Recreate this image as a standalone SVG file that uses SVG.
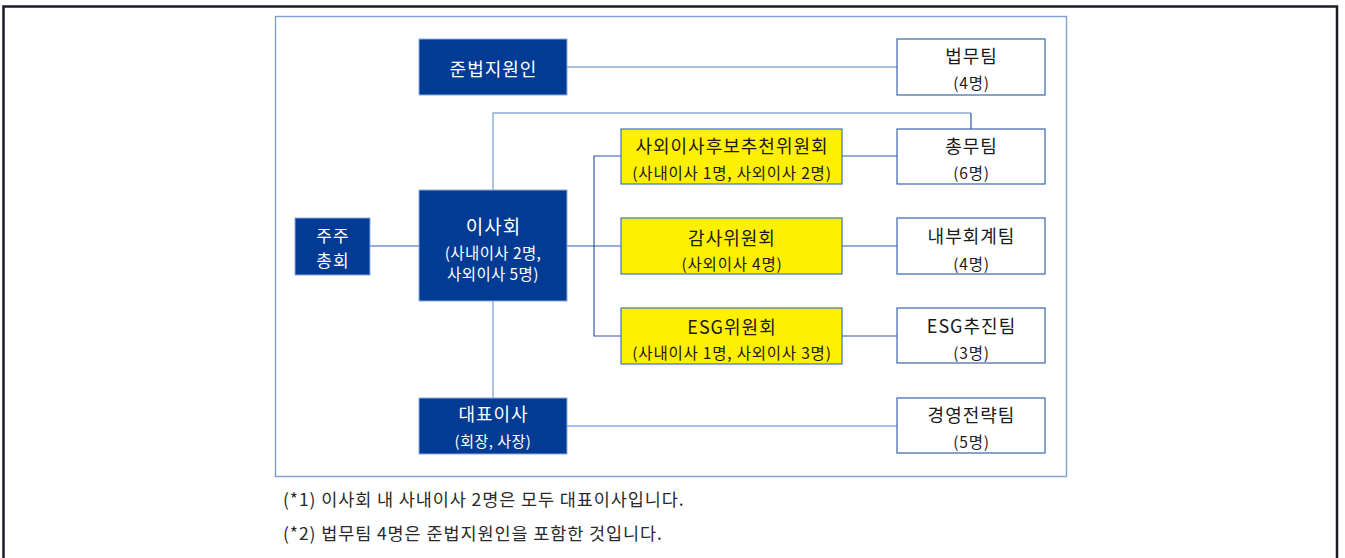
<svg xmlns="http://www.w3.org/2000/svg" width="1345" height="558" viewBox="0 0 1345 558">
<style>
text{font-family:"Noto Sans CJK KR","Noto Sans",sans-serif;text-anchor:middle;dominant-baseline:central}
.navy{fill:#023b94;stroke:#8faadc;stroke-width:1}
.yel{fill:#ffef00;stroke:#4472c4;stroke-width:1.2}
.wht{fill:#ffffff;stroke:#3a64ad;stroke-width:1.2}
.tw{fill:#ffffff}
.tb{fill:#1a1a1a}
.lt{font-size:18px;letter-spacing:1px}
.sm{font-size:15.5px;letter-spacing:0.8px}
.c1{fill:none;stroke:#8eaadb;stroke-width:1.4}
.c2{fill:none;stroke:#2f5aa6;stroke-width:1.2}
.note{font-size:17.5px;letter-spacing:0.9px;fill:#2a2a2a;text-anchor:start}
</style>
<rect width="1345" height="558" fill="#ffffff"/>
<path d="M3.5 558 V6.5 H1337 V558" fill="none" stroke="#1b1d26" stroke-width="2.5"/>
<rect x="275.5" y="16.5" width="791" height="460" fill="none" stroke="#7f9fd4" stroke-width="1.4"/>
<g id="connectors">
<path class="c1" d="M567 67 H897"/>
<path class="c1" d="M493 190 V113 H971"/>
<path class="c2" d="M971 113 V129"/>
<path class="c2" d="M370 246 H419"/>
<path class="c2" d="M567 246 H621"/>
<path class="c2" d="M621 156 H594 V336 H621"/>
<path class="c2" d="M842 156 H897"/>
<path class="c2" d="M842 246 H897"/>
<path class="c2" d="M842 336 H897"/>
<path class="c1" d="M493 301 V398"/>
<path class="c1" d="M567 426 H897"/>
</g>
<g id="n-compliance">
<rect class="navy" x="419" y="39" width="148" height="56"/>
<text class="tw lt" x="493.5" y="68">준법지원인</text>
</g>
<g id="n-board">
<rect class="navy" x="419" y="190" width="148" height="111"/>
<text class="tw" font-size="19" letter-spacing="1" x="493.5" y="225">이사회</text>
<text class="tw" font-size="15.5" letter-spacing="0.4" x="493" y="252">(사내이사 2명,</text>
<text class="tw" font-size="15.5" letter-spacing="0.4" x="493" y="273">사외이사 5명)</text>
</g>
<g id="n-shareholders">
<rect class="navy" x="295" y="218" width="75" height="57"/>
<text class="tw" font-size="17" letter-spacing="1" x="333" y="234">주주</text>
<text class="tw" font-size="17" letter-spacing="1" x="333" y="259">총회</text>
</g>
<g id="n-ceo">
<rect class="navy" x="419" y="398" width="148" height="56"/>
<text class="tw lt" x="493.5" y="413">대표이사</text>
<text class="tw" font-size="15" letter-spacing="0.5" x="493" y="440">(회장, 사장)</text>
</g>
<g id="n-nom">
<rect class="yel" x="621" y="129" width="221" height="55"/>
<text class="tb lt" x="732" y="145">사외이사후보추천위원회</text>
<text class="tb sm" x="732" y="172">(사내이사 1명, 사외이사 2명)</text>
</g>
<g id="n-audit">
<rect class="yel" x="621" y="218" width="221" height="56"/>
<text class="tb lt" x="732" y="237">감사위원회</text>
<text class="tb sm" x="732" y="263">(사외이사 4명)</text>
</g>
<g id="n-esg">
<rect class="yel" x="621" y="308" width="221" height="56"/>
<text class="tb lt" x="732" y="326">ESG위원회</text>
<text class="tb sm" x="732" y="352">(사내이사 1명, 사외이사 3명)</text>
</g>
<g id="n-legal">
<rect class="wht" x="897" y="39" width="148" height="56"/>
<text class="tb lt" x="971.5" y="55">법무팀</text>
<text class="tb sm" x="971.5" y="82">(4명)</text>
</g>
<g id="n-general">
<rect class="wht" x="897" y="129" width="148" height="55"/>
<text class="tb lt" x="971.5" y="145">총무팀</text>
<text class="tb sm" x="971.5" y="172">(6명)</text>
</g>
<g id="n-acct">
<rect class="wht" x="897" y="218" width="148" height="56"/>
<text class="tb lt" x="971.5" y="235">내부회계팀</text>
<text class="tb sm" x="971.5" y="263">(4명)</text>
</g>
<g id="n-esgteam">
<rect class="wht" x="897" y="308" width="148" height="55"/>
<text class="tb lt" x="971.5" y="325">ESG추진팀</text>
<text class="tb sm" x="971.5" y="352">(3명)</text>
</g>
<g id="n-strategy">
<rect class="wht" x="897" y="398" width="148" height="55"/>
<text class="tb lt" x="971.5" y="414">경영전략팀</text>
<text class="tb sm" x="971.5" y="441">(5명)</text>
</g>
<g id="notes">
<text class="note" x="283" y="498">(*1) 이사회 내 사내이사 2명은 모두 대표이사입니다.</text>
<text class="note" x="283" y="532">(*2) 법무팀 4명은 준법지원인을 포함한 것입니다.</text>
</g>
</svg>
